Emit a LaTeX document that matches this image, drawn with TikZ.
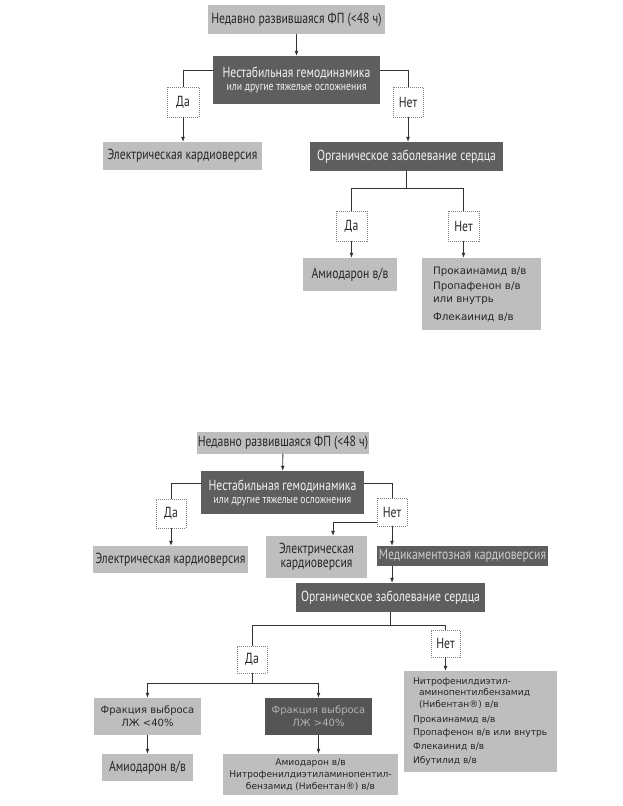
\documentclass[tikz,border=0pt]{standalone}
\usepackage{fontspec}
\setmainfont{PT Sans}
\newfontfamily\cf[FakeStretch=0.8]{PT Sans}
\newfontfamily\vf{DejaVu Sans}
\usetikzlibrary{arrows.meta,calc}
\definecolor{lg}{HTML}{BEBEBE}
\definecolor{dg}{HTML}{5E5E5E}
\definecolor{dg2}{HTML}{555555}
\definecolor{txd}{HTML}{262626}
\definecolor{lnc}{HTML}{333333}
\tikzset{
  cfont/.style={font=\cf\fontsize{14.6}{16}\selectfont},
  lbox/.style={cfont, fill=lg, text=txd, inner sep=0pt, align=center},
  dbox/.style={cfont, fill=dg, text=black!5, inner sep=0pt, align=center},
  yn/.style={cfont, draw=gray, dash pattern=on 1pt off 1pt, line width=0.6pt, fill=white, text=txd, inner sep=0pt},
  vlist/.style={fill=lg, text=txd, inner sep=0pt, align=left},
  conn/.style={draw=lnc, line width=0.8pt},
  arr/.style={conn, -{Latex[length=5pt,width=4pt]}},
}
\begin{document}
\begin{tikzpicture}[x=1pt,y=-1pt]
\fill[white] (0,0) rectangle (622,806);
\useasboundingbox (0,0) rectangle (622,806);
% ---------- top diagram ----------
\node[lbox,minimum width=177pt,minimum height=29pt] (t1) at (296.5,19.5) {Недавно развившаяся ФП (<48 ч)};
\node[dbox,minimum width=167pt,minimum height=48pt] (t2) at (296.5,80) {Нестабильная гемодинамика\\[-3pt]{\fontsize{12.2}{13}\selectfont или другие тяжелые осложнения}};
\node[yn,minimum width=32pt,minimum height=30pt] (tDa) at (183,102) {Да};
\node[lbox,minimum width=159pt,minimum height=28pt] (tEK) at (182.5,156) {Электрическая кардиоверсия};
\node[yn,minimum width=30pt,minimum height=30pt] (tNet) at (408,102) {Нет};
\node[dbox,minimum width=193pt,minimum height=29pt] (tOZ) at (406.5,156.5) {Органическое заболевание сердца};
\node[yn,minimum width=31pt,minimum height=30pt] (tDa2) at (351.5,226) {Да};
\node[lbox,minimum width=94pt,minimum height=33pt] (tAm) at (350,274.5) {Амиодарон в/в};
\node[yn,minimum width=31pt,minimum height=30pt] (tNet2) at (463.5,226) {Нет};
\node[vlist,font=\vf\fontsize{10.3}{12}\selectfont,text width=97pt,inner xsep=11pt,minimum height=72pt] (tList) at (481.5,294)
  {Прокаинамид в/в\\[3pt]Пропафенон в/в\\[1pt]или внутрь\\[6pt]Флекаинид в/в};
\draw[arr] (t1) -- (t2);
\draw[conn] ([yshift=10pt]t2.west) -| (tDa.north);
\draw[arr] (tDa.south) -- (tDa.south |- tEK.north);
\draw[conn] ([yshift=10pt]t2.east) -| (tNet.north);
\draw[arr] (tNet.south) -- (tNet.south |- tOZ.north);
\path (tOZ.south) ++(0,17.5) coordinate (tj);
\draw[conn] (tOZ.south) -- (tj);
\draw[conn] (tDa2.north) |- (tj) -| (tNet2.north);
\draw[arr] (tDa2.south) -- (tDa2.south |- tAm.north);
\draw[arr] (tNet2.south) -- (tNet2.south |- tList.north);
% ---------- bottom diagram ----------
\node[lbox,minimum width=172pt,minimum height=22pt] (b1) at (283,442.5) {Недавно развившаяся ФП (<48 ч)};
\node[dbox,minimum width=163pt,minimum height=43pt] (b2) at (282.5,492.5) {Нестабильная гемодинамика\\[-3pt]{\fontsize{12}{13}\selectfont или другие тяжелые осложнения}};
\node[yn,minimum width=30pt,minimum height=29pt] (bDa) at (171,513.5) {Да};
\node[lbox,minimum width=155pt,minimum height=27pt] (bEK) at (170.5,559.5) {Электрическая кардиоверсия};
\node[yn,minimum width=30pt,minimum height=28pt] (bNet) at (392,512) {Нет};
\node[lbox,minimum width=101pt,minimum height=42pt] (bEK2) at (316.5,557) {Электрическая\\[-2pt]кардиоверсия};
\node[dbox,text=black!20,minimum width=171pt,minimum height=20pt] (bMed) at (462.5,556) {Медикаментозная кардиоверсия};
\node[dbox,minimum width=189pt,minimum height=29pt] (bOZ) at (390.5,597.5) {Органическое заболевание сердца};
\node[yn,minimum width=30pt,minimum height=27pt] (bDa2) at (252,659.5) {Да};
\node[yn,minimum width=29pt,minimum height=27pt] (bNet2) at (445.5,643.5) {Нет};
\node[vlist,font=\vf\fontsize{9.1}{11}\selectfont,text width=135pt,inner xsep=9pt,minimum height=101pt] (bList) at (480.5,721.5)
  {Нитрофенилдиэтил-\\[0pt]\hspace*{6pt}аминопентилбензамид\\[1pt]\hspace*{6pt}(Нибентан®) в/в\\[4pt]Прокаинамид в/в\\[2pt]Пропафенон в/в или внутрь\\[3pt]Флекаинид в/в\\[3pt]Ибутилид в/в};
\node[lbox,font=\vf\fontsize{10}{13}\selectfont,minimum width=107pt,minimum height=37pt] (bF1) at (147.5,716.5) {Фракция выброса\\ЛЖ <40\%};
\node[lbox,fill=dg2,text=black!30,font=\vf\fontsize{10}{13}\selectfont,minimum width=107pt,minimum height=37pt] (bF2) at (318.5,716.5) {Фракция выброса\\ЛЖ >40\%};
\node[lbox,minimum width=91pt,minimum height=27pt] (bAm) at (147.5,767.5) {Амиодарон в/в};
\node[lbox,font=\vf\fontsize{9.1}{12}\selectfont,minimum width=175pt,minimum height=41pt] (bAm2) at (310.5,774.5) {Амиодарон в/в\\Нитрофенилдиэтиламинопентил-\\бензамид (Нибентан®) в/в};
\draw[arr] (b1) -- (b2);
\draw[conn] ([yshift=9.5pt]b2.west) -| (bDa.north);
\draw[arr] (bDa.south) -- (bDa.south |- bEK.north);
\draw[conn] ([yshift=9.5pt]b2.east) -| (bNet.north);
\draw[arr] ([yshift=-10pt]bNet.west) -| ([xshift=16.5pt]bEK2.north);
\draw[arr] (bNet.south) -- (bNet.south |- bMed.north);
\draw[arr] (bMed.south -| bNet.south) -- (bNet.south |- bOZ.north);
\path (bOZ.south) ++(0,13.5) coordinate (bj);
\draw[conn] (bOZ.south) -- (bj);
\draw[conn] (bDa2.north) |- (bj) -| (bNet2.north);
\draw[arr] (bNet2.south) -- (bNet2.south |- bList.north);
\path (bDa2.south) ++(0,10) coordinate (bk);
\draw[conn] (bDa2.south) -- (bk);
\draw[arr] (bk) -| (bF1.north);
\draw[arr] (bk) -| (bF2.north);
\draw[arr] (bF1) -- (bAm);
\draw[arr] (bF2.south) -- (bF2.south |- bAm2.north);
\end{tikzpicture}
\end{document}
